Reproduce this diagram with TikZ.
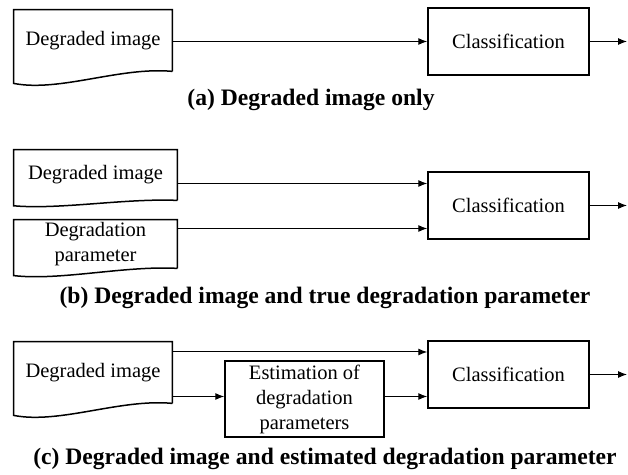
\documentclass[tikz,border=0pt]{standalone}
\usepackage{fontspec}
\setmainfont{Liberation Serif}
\usetikzlibrary{arrows.meta,calc}

\tikzset{
  box/.style={draw, line width=0.75pt, inner sep=0pt, minimum width=80.5pt,
    minimum height=33.5pt, align=center, font=\fontsize{10.25}{12.5}\selectfont},
  doc/.style={inner sep=0pt, minimum width=79pt, minimum height=30.5pt,
    align=center, font=\fontsize{10.25}{12.5}\selectfont},
  docline/.style={line width=0.75pt},
  arr/.style={line width=0.5pt, -{Latex[length=4.5pt,width=3.5pt]}},
  caption/.style={font=\fontsize{11.8}{14}\selectfont\bfseries},
}

% document outline with wavy bottom, #2 = depth of the wave
\newcommand\docwave[2]{%
  \draw[docline] (#1.south east) -- (#1.north east) -- (#1.north west)
    -- ($(#1.south west)+(0,12*#2)$)
    .. controls ($(#1.south west)+(46,21*#2)$) and ($(#1.south east)+(-52,-5*#2)$)
    .. (#1.south east);}

\begin{document}
\begin{tikzpicture}[x=0.5pt,y=-0.5pt]
\useasboundingbox (0,0) rectangle (628,475);

% (a)
\node[doc] (imgA) at (93,40.5) {Degraded image};
\docwave{imgA}{1}
\node[box] (clsA) at (508.5,41.5) {Classification};
\coordinate (outA) at (627,41.5);
\draw[arr] (imgA.east |- clsA.west) -- (clsA.west);
\draw[arr] (clsA.east) -- (outA);
\node[caption] (capA) at (311,100) {(a) Degraded image only};

% (b)
\node[doc, minimum width=81.5pt, minimum height=25pt] (imgB) at (95.5,175) {Degraded image};
\docwave{imgB}{0.45}
\node[doc, minimum width=81.5pt, minimum height=24pt] (parB) at (95.5,244) {Degradation\\parameter};
\docwave{parB}{0.6}
\node[box] (clsB) at (508.5,205.5) {Classification};
\coordinate (inB1) at ($(clsB.west)+(0,-22)$);
\coordinate (inB2) at ($(clsB.west)+(0,23)$);
\coordinate (outB) at (627,205.5);
\draw[arr] (imgB.east |- inB1) -- (inB1);
\draw[arr] (parB.east |- inB2) -- (inB2);
\draw[arr] (clsB.east) -- (outB);
\node[caption] (capB) at (325,298) {(b) Degraded image and true degradation parameter};

% (c)
\node[doc] (imgC) at (93,372.5) {Degraded image};
\docwave{imgC}{1}
\node[box, minimum width=79.5pt, minimum height=38pt] (estC) at (304.5,399) {Estimation of\\degradation\\parameters};
\node[box] (clsC) at (508.5,374.5) {Classification};
\coordinate (inC1) at ($(clsC.west)+(0,-22.5)$);
\coordinate (inC2) at ($(clsC.west)+(0,22)$);
\coordinate (outC) at (627,374.5);
\draw[arr] (imgC.east |- inC1) -- (inC1);
\draw[arr] (imgC.east |- inC2) -- (estC.west |- inC2);
\draw[arr] (estC.east |- inC2) -- (inC2);
\draw[arr] (clsC.east) -- (outC);
\node[caption] (capC) at (325,459) {(c) Degraded image and estimated degradation parameter};
\end{tikzpicture}
\end{document}
